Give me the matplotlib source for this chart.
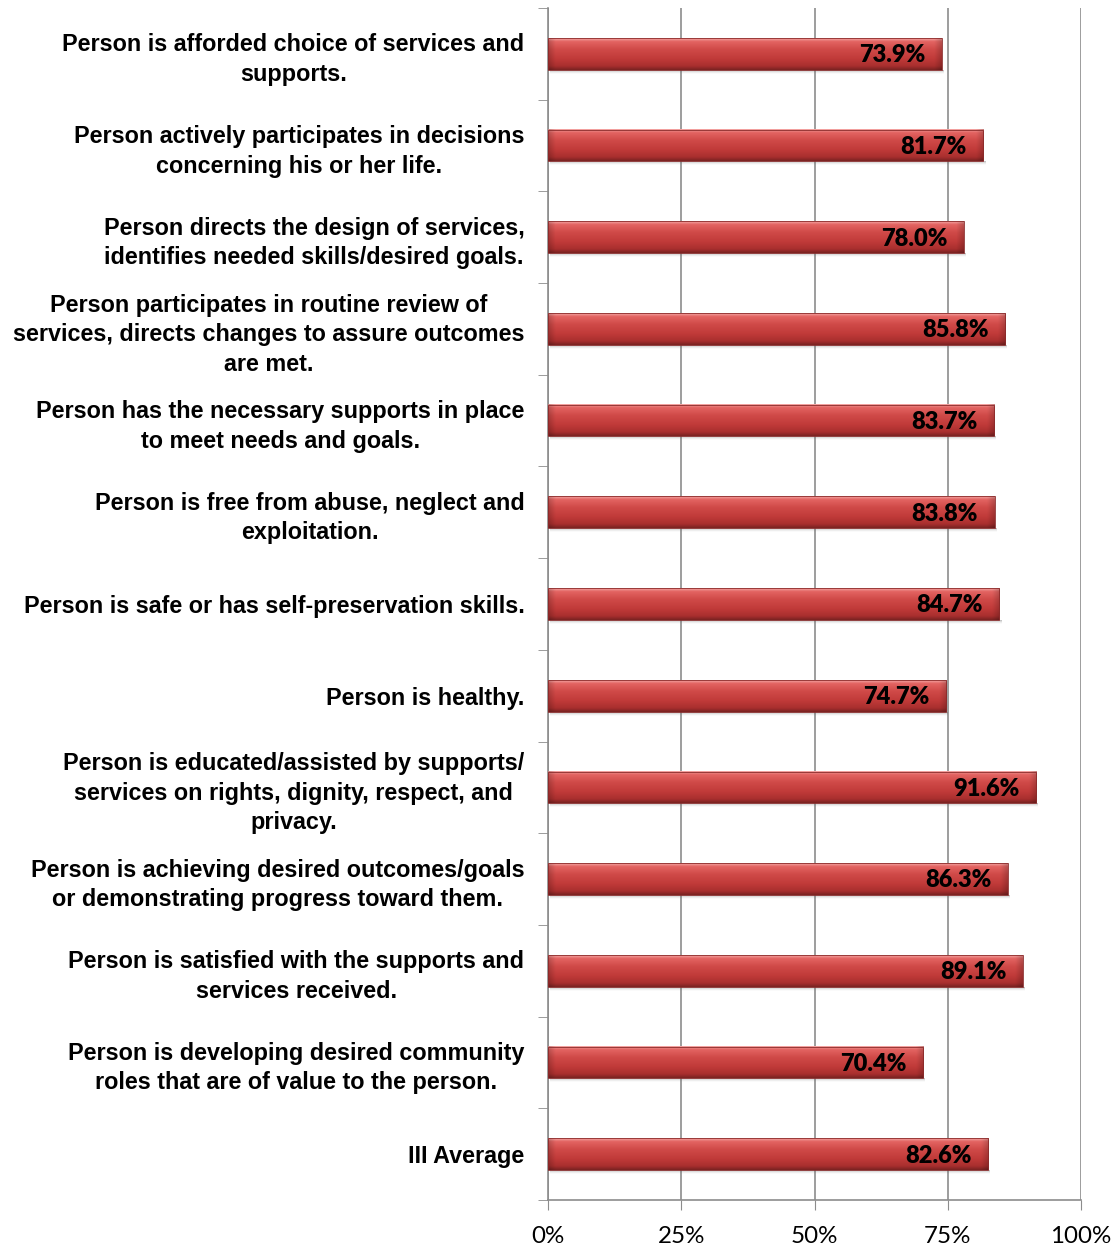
import numpy as np
import matplotlib
matplotlib.use("Agg")
import matplotlib.pyplot as plt
from matplotlib.colors import LinearSegmentedColormap
from matplotlib.ticker import FixedLocator, PercentFormatter

categories = [
    "Person is afforded choice of services and\nsupports.",
    "Person actively participates in decisions\nconcerning his or her life.",
    "Person directs the design of services,\nidentifies needed skills/desired goals.",
    "Person participates in routine review of\nservices, directs changes to assure outcomes\nare met.",
    "Person has the necessary supports in place\nto meet needs and goals.",
    "Person is free from abuse, neglect and\nexploitation.",
    "Person is safe or has self-preservation skills.",
    "Person is healthy.",
    "Person is educated/assisted by supports/\nservices on rights, dignity, respect, and\nprivacy.",
    "Person is achieving desired outcomes/goals\nor demonstrating progress toward them.",
    "Person is satisfied with the supports and\nservices received.",
    "Person is developing desired community\nroles that are of value to the person.",
    "III Average",
]
values = [73.9, 81.7, 78.0, 85.8, 83.7, 83.8, 84.7, 74.7, 91.6, 86.3, 89.1, 70.4, 82.6]
x_ticks = [0, 25, 50, 75, 100]

W, H, DPI = 1117, 1247, 100
fig = plt.figure(figsize=(W / DPI, H / DPI), dpi=DPI)
ax = fig.add_axes([548 / W, 1 - 1200 / H, 533 / W, 1192 / H])

n = len(categories)
ypos = np.arange(n)
bar_h = 0.345

# vertical shading of the bevelled bars (top -> bottom)
shade = LinearSegmentedColormap.from_list(
    "bevel",
    [(0.00, "#f4a6a4"), (0.10, "#e36462"), (0.35, "#d04a48"),
     (0.65, "#c03a39"), (0.88, "#a92f2e"), (1.00, "#7a2222")])

ax.set_xlim(0, 100)
ax.set_ylim(n - 0.5, -0.5)

# data units per pixel for bevel/shadow sizes
px_x = 100 / 533
px_y = n / 1192

for y, v in zip(ypos, values):
    top, bot = y - bar_h / 2, y + bar_h / 2
    # soft shadow below the bar
    for k, a in enumerate([0.18, 0.12, 0.07, 0.03]):
        ax.fill_between([0.3, v + 0.4], bot, bot + (k + 1) * px_y,
                        color="#606060", alpha=a, lw=0, zorder=2)
    # gradient body with darker bevelled ends
    nx = 300
    ny = 64
    gy = np.linspace(0, 1, ny)[:, None]
    rgba = shade(np.repeat(gy, nx, axis=1))
    xs = np.linspace(0, v, nx)[None, :]
    edge = 7 * px_x
    left = np.clip(xs / edge, 0, 1)
    right = np.clip((v - xs) / edge, 0, 1)
    fac = 0.82 + 0.18 * np.minimum(left, right)
    rgba[..., :3] *= fac[..., None]
    ax.imshow(rgba, extent=(0, v, bot, top), aspect="auto",
              interpolation="bilinear", zorder=3, origin="upper")
    ax.add_patch(plt.Rectangle((0, top), v, bar_h, fill=False,
                               ec="#8a2a2a", lw=0.6, zorder=4))
    ax.annotate(f"{v:.1f}%", xy=(v, y), xytext=(-12, -1),
                textcoords="offset points", ha="right", va="center",
                fontsize=17, fontweight="heavy", family="Lato",
                color="black", zorder=5)

# category labels
ax.set_yticks(ypos)
ax.set_yticklabels(categories, fontsize=16.8, fontweight="bold",
                   family="Liberation Sans", multialignment="center",
                   linespacing=1.36)
ax.tick_params(axis="y", length=0, pad=17)
ax.yaxis.set_minor_locator(FixedLocator(np.arange(-0.5, n, 1)))
ax.tick_params(axis="y", which="minor", length=7, color="#8c8c8c",
               direction="out")

ax.xaxis.set_major_locator(FixedLocator(x_ticks))
ax.xaxis.set_major_formatter(PercentFormatter(decimals=0))
ax.tick_params(axis="x", length=7, color="#8c8c8c", direction="out",
               labelsize=17.4, pad=12)
for lab in ax.get_xticklabels():
    lab.set_family("Lato")

ax.grid(axis="x", color="#8c8c8c", lw=1.2, zorder=0)
ax.set_axisbelow(True)
for s in ["top", "right"]:
    ax.spines[s].set_visible(False)
for s in ["left", "bottom"]:
    ax.spines[s].set_color("#8c8c8c")
    ax.spines[s].set_linewidth(1.2)

fig.savefig("out.png", dpi=DPI)
